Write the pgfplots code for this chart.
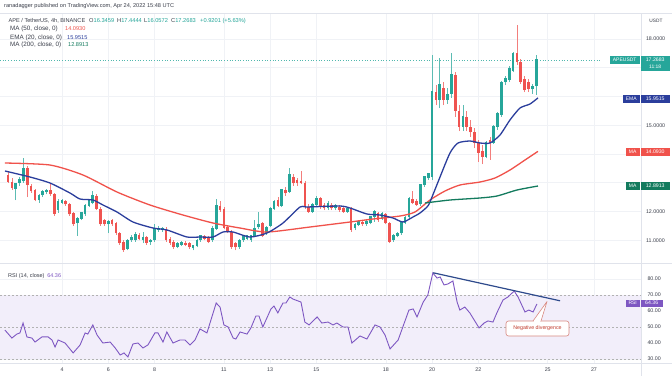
\documentclass[border=0pt]{standalone}
\usepackage{pgfplots}
\usepackage{pgfplotstable}
\pgfplotsset{compat=1.18}
\usepackage{fontspec}
\setmainfont{Liberation Sans}
\definecolor{upc}{HTML}{26A69A}
\definecolor{dnc}{HTML}{EF5350}
\definecolor{maR}{HTML}{F0524B}
\definecolor{emaB}{HTML}{2B3E9C}
\definecolor{maG}{HTML}{137B5E}
\definecolor{rsiP}{HTML}{7E57C2}
\definecolor{bandP}{HTML}{F2EEFA}
\definecolor{gridc}{HTML}{F0F2F6}
\definecolor{sepc}{HTML}{E0E3EB}
\definecolor{txt}{HTML}{3A3E4A}
\definecolor{divB}{HTML}{2E4A8C}
\definecolor{callR}{HTML}{C0392B}
\newcommand{\fs}[1]{\fontsize{#1}{#1}\selectfont}

\pgfplotstableread{
k o h l c
4 13.27 13.40 13.00 13.04
5 13.04 13.15 12.75 12.81
6 12.78 13.00 12.40 12.98
7 12.98 13.20 12.90 13.10
8 13.05 13.85 13.00 13.50
9 13.50 13.60 12.50 12.92
10 12.88 12.95 12.65 12.70
11 12.75 12.80 12.35 12.40
12 12.40 12.62 12.30 12.57
13 12.57 12.75 12.50 12.70
14 12.68 12.80 12.60 12.73
15 12.75 12.95 12.55 12.60
16 12.60 12.65 11.85 11.92
17 12.05 12.45 11.95 12.35
18 12.30 12.45 12.25 12.38
19 12.35 12.40 12.20 12.25
20 12.25 12.30 11.85 11.90
21 11.95 12.00 11.50 11.55
22 11.60 11.80 11.15 11.75
23 11.75 12.00 11.70 11.95
24 11.90 12.25 11.85 12.20
25 12.20 12.45 12.15 12.40
26 12.30 12.70 12.25 12.55
27 12.55 12.60 12.05 12.10
28 12.10 12.15 11.50 11.55
29 11.70 11.75 11.50 11.55
30 11.55 11.70 11.25 11.65
31 11.70 11.75 11.50 11.55
32 11.60 11.65 11.20 11.25
33 11.25 11.30 10.85 10.90
34 10.95 11.00 10.60 10.65
35 10.70 11.05 10.65 11.00
36 11.00 11.20 10.95 11.10
37 11.02 11.30 10.95 11.20
38 11.20 11.25 11.00 11.03
39 11.00 11.30 10.90 11.10
40 11.10 11.15 10.85 10.90
41 10.95 11.05 10.85 11.00
42 11.00 11.55 10.95 11.40
43 11.35 11.50 11.30 11.42
44 11.38 11.45 11.30 11.40
45 11.40 11.45 10.95 11.00
46 11.05 11.10 10.85 10.90
47 10.95 11.00 10.70 10.75
48 10.78 10.95 10.72 10.88
49 10.85 10.98 10.80 10.92
50 10.92 10.98 10.80 10.85
51 10.90 10.95 10.70 10.75
52 10.72 10.85 10.65 10.80
53 10.80 11.05 10.75 11.00
54 11.00 11.20 10.95 11.15
55 11.15 11.20 11.00 11.05
56 11.10 11.15 10.90 10.95
57 11.00 11.50 10.95 11.40
58 11.40 12.45 11.35 12.20
59 12.20 12.35 12.00 12.05
60 12.10 12.15 11.40 11.43
61 11.45 11.50 11.25 11.30
62 11.30 11.35 10.70 10.75
63 10.90 10.95 10.65 10.75
64 10.75 11.05 10.70 11.00
65 11.00 11.20 10.95 11.15
66 11.05 11.20 11.00 11.15
67 11.02 11.20 10.95 11.15
68 11.15 11.70 11.10 11.40
69 11.45 12.00 11.40 11.55
70 11.60 11.65 11.10 11.15
71 11.25 11.50 11.20 11.45
72 11.50 12.15 11.45 12.10
73 12.10 12.40 12.05 12.34
74 12.40 12.50 12.15 12.20
75 12.20 12.80 12.15 12.75
76 12.75 12.85 12.55 12.63
77 12.69 13.50 12.65 13.27
78 13.21 13.30 12.90 12.98
79 13.10 13.15 12.90 12.98
80 13.05 13.40 12.95 12.98
81 12.98 13.05 12.10 12.17
82 12.17 12.25 11.95 11.99
83 11.99 12.30 11.95 12.23
84 12.23 12.55 12.20 12.46
85 12.46 12.50 12.10 12.17
86 12.23 12.30 12.05 12.11
87 12.11 12.35 12.05 12.29
88 12.23 12.30 12.05 12.11
89 12.11 12.25 12.05 12.20
90 12.17 12.22 12.00 12.05
91 12.11 12.15 11.95 11.99
92 12.00 12.15 11.95 12.10
93 12.11 12.15 11.30 11.36
94 11.42 11.60 11.35 11.53
95 11.53 11.70 11.50 11.65
96 11.65 11.70 11.50 11.55
97 11.55 11.70 11.50 11.65
98 11.60 11.85 11.55 11.82
99 11.82 12.05 11.65 11.99
100 11.94 12.00 11.65 11.70
101 11.75 11.98 11.70 11.94
102 11.90 11.95 11.55 11.60
103 11.60 11.65 10.90 10.95
104 11.00 11.22 10.95 11.18
105 11.15 11.30 11.10 11.24
106 11.24 11.65 11.20 11.60
107 11.60 11.85 11.55 11.80
108 11.80 12.50 11.75 12.45
109 12.45 12.70 12.25 12.30
110 12.35 12.45 12.20 12.23
111 12.25 12.95 12.20 12.92
112 12.92 13.25 12.85 13.20
113 13.15 13.35 13.10 13.32
114 13.20 17.44 13.10 16.16
115 16.16 16.40 15.70 15.88
116 15.88 17.34 15.60 16.40
117 16.30 16.50 15.70 15.88
118 15.88 16.30 15.75 16.05
119 16.10 17.50 15.95 16.75
120 16.75 16.85 15.30 15.50
121 15.50 15.70 14.80 14.95
122 14.95 15.70 14.80 15.30
123 15.30 15.50 14.80 14.95
124 14.95 15.20 14.60 14.75
125 14.75 14.90 14.20 14.40
126 14.40 14.50 13.72 14.05
127 14.10 14.30 13.65 13.90
128 13.90 14.45 13.85 14.40
129 14.50 14.60 13.80 14.40
130 14.40 15.00 14.35 14.94
131 14.94 15.45 14.85 15.40
132 15.36 16.55 15.30 16.50
133 16.50 16.70 16.40 16.62
134 16.57 17.05 16.50 16.97
135 16.90 17.55 16.85 17.50
136 17.50 18.49 17.10 17.20
137 17.20 17.30 16.45 16.50
138 16.60 16.70 16.15 16.22
139 16.50 16.60 16.15 16.25
140 16.25 16.45 16.10 16.35
141 16.35 17.44 16.06 17.27
}\candles

\pgfplotsset{tvaxis/.style={
  scale only axis, width=641pt,
  xmin=1.92, xmax=168.2,
  axis line style={draw=none},
  xtick={18,30,42,60,72,84,102,114,126,144,156},
  major tick length=0pt,
  grid=major, grid style={draw=gridc, line width=0.6pt},
  yticklabel pos=right,
}}

\begin{document}
\begin{tikzpicture}[x=1pt,y=1pt]
\useasboundingbox (0pt,0pt) rectangle (672pt,376pt);
\fill[white] (0pt,0pt) rectangle (672pt,376pt);

% ---------- price panel ----------
\begin{axis}[tvaxis, at={(0pt,362pt)}, anchor=north west, height=249pt,
  ymin=10.209, ymax=18.870, ytick={11,...,18},
  xticklabels={},
  yticklabels={11.0000,12.0000,,,15.0000,,,18.0000},
  yticklabel style={anchor=west, xshift=1.5pt, font=\fs{5.3}, text=txt},
]
% last price dotted line
\addplot[upc!80, dotted, line width=0.7pt] coordinates {(1.92,17.2683) (157.5,17.2683)};
% wicks
\addplot[draw=none, restrict expr to domain={\thisrow{c}-\thisrow{o}}{0:100},
  error bars/.cd, y dir=plus, y explicit, error mark=none,
  error bar style={draw=upc!75, line width=0.7pt}]
  table[x=k, y=l, y error expr=\thisrow{h}-\thisrow{l}] {\candles};
\addplot[draw=none, restrict expr to domain={\thisrow{c}-\thisrow{o}}{-100:-0.00001},
  error bars/.cd, y dir=plus, y explicit, error mark=none,
  error bar style={draw=dnc!75, line width=0.7pt}]
  table[x=k, y=l, y error expr=\thisrow{h}-\thisrow{l}] {\candles};
% bodies
\addplot[draw=none, restrict expr to domain={\thisrow{c}-\thisrow{o}}{0:100},
  error bars/.cd, y dir=plus, y explicit, error mark=none,
  error bar style={draw=upc, line width=2.7pt}]
  table[x=k, y=o, y error expr=\thisrow{c}-\thisrow{o}+0.02] {\candles};
\addplot[draw=none, restrict expr to domain={\thisrow{c}-\thisrow{o}}{-100:-0.00001},
  error bars/.cd, y dir=plus, y explicit, error mark=none,
  error bar style={draw=dnc, line width=2.7pt}]
  table[x=k, y=c, y error expr=\thisrow{o}-\thisrow{c}] {\candles};
% MA 50
\addplot[maR, line width=1.3pt, smooth, tension=0.4] coordinates {
(3.21,13.687)(14.89,13.617)(23.45,13.270)(32.27,12.678)(40.83,12.226)(49.39,11.878)
(57.17,11.600)(64.17,11.426)(71.18,11.287)(82.33,11.461)(92.71,11.635)(98.67,11.739)
(105.68,11.843)(109.57,11.983)(113.46,12.400)(117.35,12.713)(121.24,12.922)(126.43,13.026)
(130.32,13.165)(134.21,13.443)(138.10,13.791)(141.47,14.093)};
% EMA 20
\addplot[emaB, line width=1.3pt, smooth, tension=0.4] coordinates {
(3.21,13.409)(9.70,13.200)(14.89,12.991)(20.08,12.643)(22.67,12.435)(26.04,12.400)
(28.64,12.226)(32.27,11.983)(36.42,11.635)(41.61,11.426)(45.24,11.357)(50.43,11.113)
(53.80,11.113)(57.17,11.113)(59.76,11.287)(62.36,11.287)(66.77,11.113)(71.18,11.252)
(75.33,11.600)(79.74,12.157)(81.55,12.157)(90.11,12.191)(92.71,12.122)(97.12,11.913)
(100.49,11.878)(103.86,11.774)(106.45,11.635)(109.05,11.809)(110.87,11.948)(112.68,12.157)
(113.46,12.330)(116.06,13.200)(118.65,14.035)(120.72,14.383)(123.84,14.452)(126.43,14.383)
(129.02,14.383)(131.62,14.661)(134.21,15.183)(136.81,15.600)(139.40,15.739)(141.47,15.952)};
% MA 200
\addplot[maG, line width=1.3pt, smooth, tension=0.4] coordinates {
(112.16,12.296)(118.65,12.400)(126.43,12.470)(130.84,12.539)(136.03,12.748)(141.47,12.887)};
\end{axis}

% ---------- RSI panel ----------
\begin{axis}[tvaxis, at={(0pt,112pt)}, anchor=north west, height=99pt,
  ymin=27.5, ymax=89.4, ytick={30,40,...,80},
  xticklabels={4,6,8,11,13,15,18,20,22,25,27},
  xticklabel style={font=\fs{5.3}, text=txt, yshift=-1.5pt},
  yticklabels={30.00,40.00,50.00,60.00,70.00,80.00},
  yticklabel style={anchor=west, xshift=3pt, font=\fs{5.3}, text=txt},
]
\addplot[draw=none, fill=bandP] coordinates {(1.92,30) (168.2,30) (168.2,70) (1.92,70)} \closedcycle;
\addplot[gray!60, dash pattern=on 2pt off 2pt, line width=0.5pt] coordinates {(1.92,70) (168.2,70)};
\addplot[gray!60, dash pattern=on 2pt off 2pt, line width=0.5pt] coordinates {(1.92,50) (168.2,50)};
\addplot[gray!60, dash pattern=on 2pt off 2pt, line width=0.5pt] coordinates {(1.92,30) (168.2,30)};
\addplot[rsiP, line width=0.9pt] coordinates {
(3.2,48.1)(5.0,43.1)(6.3,45.6)(7.1,46.3)(7.9,52.5)(8.9,43.8)(10.2,43.1)(11.0,40.6)(12.8,43.8)
(14.4,43.8)(15.4,41.9)(16.2,37.5)(17.0,41.9)(18.8,40.0)(20.9,33.8)(22.7,38.8)(24.0,46.3)
(24.7,45.6)(26.0,51.3)(27.1,45.0)(28.6,40.0)(30.5,40.6)(31.8,36.9)(33.1,32.5)(34.1,33.8)
(35.1,31.3)(36.4,39.4)(37.7,40.0)(39.0,36.9)(40.3,38.8)(42.1,46.3)(42.9,46.3)(44.2,40.6)
(45.2,46.9)(46.8,40.0)(48.6,41.9)(49.9,41.9)(51.2,38.8)(52.5,41.9)(53.8,48.8)(55.6,46.3)
(58.0,65.0)(59.0,62.5)(60.0,51.3)(61.1,50.0)(62.4,43.1)(63.1,42.5)(64.2,46.9)(66.0,45.6)
(67.0,49.4)(68.3,56.9)(69.1,56.9)(70.1,50.0)(72.2,61.3)(73.0,63.1)(74.0,58.8)(75.3,65.0)
(76.1,65.0)(77.1,68.8)(77.9,67.5)(80.0,65.6)(81.0,53.1)(82.1,51.3)(84.2,56.3)(85.4,52.5)
(87.0,53.1)(88.3,51.3)(89.3,52.5)(90.9,50.0)(92.2,50.0)(93.2,40.0)(95.3,44.4)(97.1,42.5)
(99.2,51.3)(100.5,50.0)(101.8,45.0)(103.1,36.3)(105.2,41.9)(108.0,60.6)(109.1,61.3)
(110.1,56.3)(111.7,65.6)(112.9,70.0)(114.2,83.8)(115.3,80.6)(116.1,81.3)(117.1,76.3)
(118.1,76.9)(119.4,78.8)(120.5,65.6)(121.2,60.6)(122.5,62.5)(123.8,58.8)(126.2,49.4)
(127.5,52.5)(128.5,53.8)(129.8,53.1)(130.8,58.8)(132.4,66.9)(133.7,68.8)(135.3,72.5)
(136.3,68.8)(138.1,59.4)(139.1,60.6)(140.2,59.4)(141.2,64.36)};
\addplot[divB, line width=1.2pt] coordinates {(114.3,83.9) (147.2,66.4)};
\end{axis}

% ---------- separators ----------
\draw[sepc, line width=0.6pt] (0pt,362.5pt) -- (672pt,362.5pt);
\draw[sepc, line width=0.6pt] (0pt,112.5pt) -- (672pt,112.5pt);
\draw[sepc, line width=0.6pt] (0pt,12.5pt) -- (672pt,12.5pt);
\draw[sepc, line width=0.6pt] (641pt,0pt) -- (641pt,362.5pt);

% ---------- header texts ----------
\node[anchor=west, inner sep=0, text=txt] at (4pt,370pt) {\fs{5.6}ranadagger published on TradingView.com, Apr 24, 2022 15:48 UTC};
\node[anchor=base west, inner sep=0, text=txt] at (8.5pt,354pt) {\fs{5.6}APE / TetherUS, 4h, BINANCE};
\node[anchor=base west, inner sep=0, text=txt] at (89pt,354pt) {\fs{5.7}O\textcolor{upc}{16.3459}};
\node[anchor=base west, inner sep=0, text=txt] at (117pt,354pt) {\fs{5.7}H\textcolor{upc}{17.4444}};
\node[anchor=base west, inner sep=0, text=txt] at (144pt,354pt) {\fs{5.7}L\textcolor{upc}{16.0572}};
\node[anchor=base west, inner sep=0, text=txt] at (171pt,354pt) {\fs{5.7}C\textcolor{upc}{17.2683}};
\node[anchor=base west, inner sep=0, text=upc] at (200pt,354pt) {\fs{5.7}+0.9201 (+5.63\%)};
\node[anchor=base west, inner sep=0, text=txt] at (10pt,345.5pt) {\fs{6.3}MA (50, close, 0)};
\node[anchor=base west, inner sep=0, text=maR] at (65pt,345.5pt) {\fs{5.6}14.0930};
\node[anchor=base west, inner sep=0, text=txt] at (10pt,337pt) {\fs{6.3}EMA (20, close, 0)};
\node[anchor=base west, inner sep=0, text=emaB] at (67pt,337pt) {\fs{5.6}15.9515};
\node[anchor=base west, inner sep=0, text=txt] at (10pt,329.5pt) {\fs{6.3}MA (200, close, 0)};
\node[anchor=base west, inner sep=0, text=maG] at (68pt,329.5pt) {\fs{5.6}12.8913};
\node[anchor=west, inner sep=0, text=txt] at (8pt,100pt) {\fs{5.5}RSI (14, close)\enspace\textcolor{rsiP}{64.36}};

% ---------- right scale labels ----------
\node[inner sep=0, text=txt] at (656pt,355pt) {\fs{4.8}USDT};
\fill[upc] (610pt,312pt) rectangle (639.5pt,320pt);
\node[inner sep=0, text=white] at (624.7pt,316pt) {\fs{5}APEUSDT};
\fill[upc] (640.5pt,305pt) rectangle (670pt,320pt);
\node[inner sep=0, text=white] at (655.2pt,316pt) {\fs{5.2}17.2683};
\node[inner sep=0, text=white] at (655.2pt,309pt) {\fs{5}11:18};
\fill[emaB] (623pt,273pt) rectangle (639.5pt,281pt);
\node[inner sep=0, text=white] at (631.2pt,277pt) {\fs{5}EMA};
\fill[emaB] (640.5pt,273pt) rectangle (670pt,281pt);
\node[inner sep=0, text=white] at (655.2pt,277pt) {\fs{5.2}15.9515};
\fill[maR] (626pt,220pt) rectangle (639.5pt,228pt);
\node[inner sep=0, text=white] at (632.7pt,224pt) {\fs{5}MA};
\fill[maR] (640.5pt,220pt) rectangle (670pt,228pt);
\node[inner sep=0, text=white] at (655.2pt,224pt) {\fs{5.2}14.0930};
\fill[maG] (626pt,186pt) rectangle (639.5pt,194pt);
\node[inner sep=0, text=white] at (632.7pt,190pt) {\fs{5}MA};
\fill[maG] (640.5pt,186pt) rectangle (670pt,194pt);
\node[inner sep=0, text=white] at (655.2pt,190pt) {\fs{5.2}12.8913};
\fill[rsiP] (626pt,69.5pt) rectangle (639.5pt,76.5pt);
\node[inner sep=0, text=white] at (632.7pt,73pt) {\fs{5}RSI};
\fill[rsiP] (640.5pt,69.5pt) rectangle (663pt,76.5pt);
\node[inner sep=0, text=white] at (651.7pt,73pt) {\fs{5.2}64.36};

% ---------- callout ----------
\draw[callR!60, fill=white, rounded corners=2.5pt, line width=0.6pt] (506pt,40pt) rectangle (569pt,55pt);
\draw[callR!60, fill=white, line width=0.6pt, line join=round] (533pt,55pt) -- (547pt,74.5pt) -- (541pt,55pt);
\fill[white] (533.6pt,54pt) -- (540.4pt,54pt) -- (540.4pt,55.8pt) -- (533.6pt,55.8pt) -- cycle;
\node[inner sep=0, text=callR] at (537.5pt,47.5pt) {\fs{5.3}Negative divergence};
\end{tikzpicture}
\end{document}
